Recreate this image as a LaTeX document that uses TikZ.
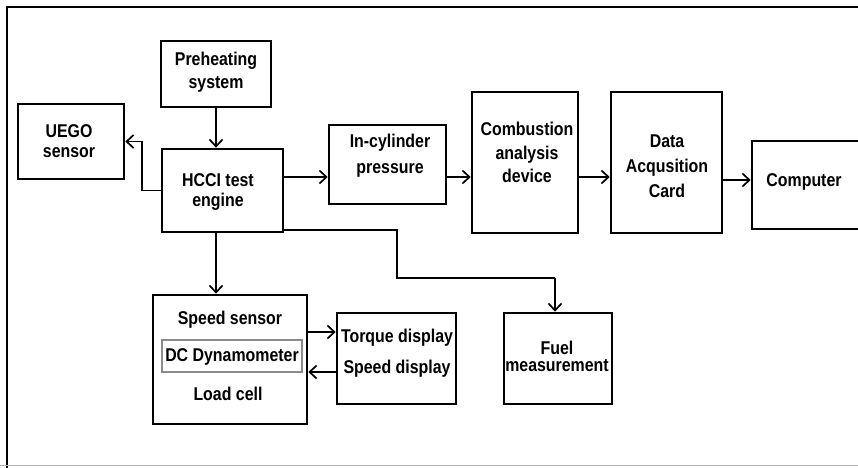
\documentclass[tikz,border=0pt]{standalone}
\usepackage{fontspec}
\setmainfont{Liberation Sans}[FakeStretch=0.86]
\usetikzlibrary{arrows.meta}

\tikzset{
  blk/.style={draw, line width=2.6pt, inner sep=0pt},
  inner/.style={draw=black!45, line width=1.1pt, inner sep=0pt},
  lbl/.style={align=center, inner sep=0pt, font=\bfseries\fontsize{18.5}{#1}\selectfont},
  lbl/.default=22,
  arr/.style={line width=1.8pt, -{Straight Barb[length=7pt,width=13pt,line width=1.7pt]}},
  wire/.style={line width=1.8pt}
}

\begin{document}
\begin{tikzpicture}[x=1pt, y=-1pt]
  \useasboundingbox (0,0) rectangle (858,467);
  \clip (0,0) rectangle (858,467);

  % frame
  \draw[line width=2.6pt, line cap=rect] (858,7) -- (7,7) -- (7,470);
  \draw[black!30, line width=1pt] (0,465.5) -- (858,465.5);

  % blocks
  \node[blk, minimum width=110, minimum height=66] (pre)   at (216,74)    {};
  \node[blk, minimum width=106, minimum height=75] (uego)  at (71,141.5)  {};
  \node[blk, minimum width=121, minimum height=83] (hcci)  at (222.5,190.5) {};
  \node[blk, minimum width=117, minimum height=79] (incyl) at (387.5,164.5) {};
  \node[blk, minimum width=106, minimum height=141] (comb) at (525,162.5) {};
  \node[blk, minimum width=111, minimum height=141] (dac)  at (666.5,162.5) {};
  \node[blk, minimum width=118, minimum height=88] (comp)  at (811,185)   {};
  \node[blk, minimum width=108, minimum height=91] (fuel)  at (558,358.5) {};
  \node[blk, minimum width=154, minimum height=129] (dyno) at (230,359.5) {};
  \node[inner, minimum width=140, minimum height=32] (dcbox) at (232,356) {};
  \node[blk, minimum width=119, minimum height=91] (disp)  at (396.5,358.5) {};

  % texts
  \node[lbl=23] (pre-t)   at (216,72.5) {Preheating\\system};
  \node[lbl=20] (uego-t)  at (69,141)   {UEGO\\sensor};
  \node[lbl=20] (hcci-t)  at (218,192)  {HCCI test\\engine};
  \node[lbl=26] (incyl-t) at (390,156)  {In-cylinder\\pressure};
  \node[lbl=23.5] (comb-t) at (527,152.5) {Combustion\\analysis\\device};
  \node[lbl=25] (dac-t)   at (667,166)  {Data\\Acqusition\\Card};
  \node[lbl] (comp-t)     at (804,182)  {Computer};
  \node[lbl=17] (fuel-t)  at (557,356.5) {Fuel\\measurement};
  \node[lbl] (speed-t)    at (230,320)  {Speed sensor};
  \node[lbl] (dc-t)       at (232,357)  {DC Dynamometer};
  \node[lbl] (load-t)     at (228,394)  {Load cell};
  \node[lbl] (torque-t)   at (397,338)  {Torque display};
  \node[lbl] (sdisp-t)    at (397,369)  {Speed display};

  % connectors
  \draw[arr] (pre.south -| 216,0) -- (216,0 |- hcci.north);
  \draw[arr] (hcci.west) -- ++(-19,0) |- (uego.east);
  \draw[arr] (hcci.east |- 0,177) coordinate (h1) -- (h1 -| incyl.west);
  \draw[arr] (incyl.east |- h1) -- (h1 -| comb.west);
  \draw[arr] (comb.east |- h1) -- (h1 -| dac.west);
  \draw[arr] (dac.east |- 0,180) coordinate (d1) -- (d1 -| comp.west);
  \coordinate (f1) at (397,278);
  \coordinate (f2) at (555,278);
  \draw[wire] (hcci.east |- 0,230) coordinate (h2) -- (h2 -| f1) -- (f1) -- (f2);
  \draw[arr] (f2) -- (f2 |- fuel.north);
  \draw[arr] (hcci.south -| 216,0) -- (216,0 |- dyno.north);
  \draw[arr] (dyno.east |- 0,332) coordinate (s1) -- (s1 -| disp.west);
  \draw[arr] (disp.west |- 0,372) coordinate (s2) -- (s2 -| dyno.east);
\end{tikzpicture}
\end{document}
